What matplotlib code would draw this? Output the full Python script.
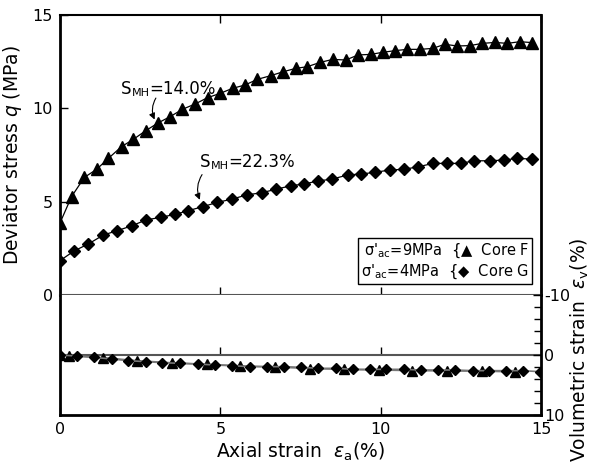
import numpy as np
import matplotlib
matplotlib.use('Agg')
import matplotlib.pyplot as plt
from matplotlib.ticker import MultipleLocator

plt.rcParams['font.family'] = ['DejaVu Sans']
plt.rcParams['mathtext.fontset'] = 'dejavusans'

# 上部: 偏差応力 q (MPa)
f_x = [0, 0.36, 0.76, 1.14, 1.51, 1.92, 2.29, 2.67, 3.07, 3.43, 3.82, 4.21, 4.60,
       4.99, 5.38, 5.77, 6.15, 6.57, 6.96, 7.35, 7.71, 8.11, 8.50, 8.91, 9.30, 9.69,
       10.06, 10.45, 10.83, 11.23, 11.62, 12.00, 12.39, 12.78, 13.17, 13.56, 13.95,
       14.34, 14.73]
f_q = [3.86, 5.27, 6.30, 6.73, 7.32, 7.95, 8.34, 8.80, 9.23, 9.55, 9.95, 10.23, 10.57,
       10.80, 11.07, 11.25, 11.55, 11.75, 11.96, 12.14, 12.23, 12.46, 12.62, 12.59,
       12.86, 12.89, 13.00, 13.09, 13.16, 13.16, 13.21, 13.43, 13.34, 13.36, 13.48,
       13.53, 13.48, 13.57, 13.52]
g_x = [0, 0.44, 0.88, 1.35, 1.77, 2.23, 2.68, 3.14, 3.59, 4.00, 4.45, 4.90, 5.35,
       5.82, 6.29, 6.73, 7.19, 7.62, 8.05, 8.49, 8.97, 9.38, 9.82, 10.29, 10.72, 11.17,
       11.64, 12.08, 12.50, 12.91, 13.41, 13.85, 14.26, 14.73]
g_q = [1.84, 2.36, 2.73, 3.21, 3.44, 3.70, 4.02, 4.16, 4.32, 4.52, 4.73, 4.96, 5.13,
       5.36, 5.48, 5.66, 5.85, 5.95, 6.11, 6.21, 6.43, 6.48, 6.57, 6.70, 6.73, 6.87,
       7.05, 7.05, 7.05, 7.19, 7.19, 7.23, 7.32, 7.28]

# 下部: 体積ひずみ εv (%)
fv_x = [0, 0.28, 1.35, 2.41, 3.48, 4.57, 5.61, 6.70, 7.79, 8.85, 9.94, 10.98, 12.07,
        13.16, 14.20]
fv_e = [0, 0.10, 0.45, 0.95, 1.30, 1.55, 1.80, 2.00, 2.25, 2.40, 2.50, 2.60, 2.65,
        2.70, 2.80]
gv_x = [0.0, 0.52, 1.06, 1.61, 2.13, 2.67, 3.19, 3.74, 4.29, 4.83, 5.35, 5.92, 6.46,
        6.99, 7.53, 8.06, 8.61, 9.15, 9.67, 10.17, 10.73, 11.25, 11.80, 12.32, 12.87,
        13.39, 13.91, 14.43, 14.97]
gv_e = [0.0, 0.17, 0.39, 0.67, 0.94, 1.11, 1.28, 1.39, 1.50, 1.67, 1.78, 1.94, 1.94,
        1.94, 2.06, 2.22, 2.22, 2.39, 2.39, 2.39, 2.39, 2.50, 2.50, 2.50, 2.61, 2.61,
        2.61, 2.61, 2.78]

fig = plt.figure(figsize=(5.94, 4.65), dpi=100)
L, R = 60 / 594, 541 / 594
ax = fig.add_axes([L, 1 - 295 / 465, R - L, (295 - 15) / 465])
ax2 = fig.add_axes([L, 1 - 415 / 465, R - L, (415 - 295) / 465])

# 上段
ax.plot(f_x, f_q, color='k', lw=0.9, marker='^', ms=8.5, mfc='k', mec='k')
ax.plot(g_x, g_q, color='k', lw=0.9, marker='D', ms=6, mfc='k', mec='k')
ax.set_xlim(0, 15)
ax.set_ylim(0, 15)
ax.set_yticks([0, 5, 10, 15])
ax.set_xticks([0, 5, 10, 15])
ax.tick_params(axis='x', which='both', top=True, bottom=True, labelbottom=False,
               direction='in', length=6, width=1)
ax.tick_params(axis='y', direction='in', length=6, width=1, labelsize=11.5, pad=5)
for s in ['left', 'right']:
    ax.spines[s].set_linewidth(2)
ax.spines['top'].set_linewidth(1.5)
ax.spines['bottom'].set_color('#555555')
ax.spines['bottom'].set_linewidth(1.5)
ax.set_ylabel('Deviator stress $q$ (MPa)', fontsize=13.5, labelpad=6)

# S_MH 注記
def smh(x, y, val):
    t1 = ax.text(x, y, 'S', fontsize=12, va='baseline')
    t2 = ax.annotate('MH', xy=(1, 0), xycoords=t1, fontsize=8, va='bottom')
    ax.annotate(val, xy=(1, 0), xycoords=t2, fontsize=12, va='bottom')

smh(1.9, 10.75, '=14.0%')
smh(4.37, 6.85, '=22.3%')
arrow = dict(arrowstyle='-|>', color='k', lw=0.8, mutation_scale=9,
             shrinkA=0, shrinkB=0, connectionstyle='arc3,rad=0.25')
ax.annotate('', xy=(2.95, 9.4), xytext=(2.99, 10.55), arrowprops=arrow)
ax.annotate('', xy=(4.36, 5.1), xytext=(4.43, 6.45), arrowprops=arrow)

# 凡例
ax.text(0.975, 0.05,
        "σ'$_{\\rm ac}$=9MPa  {▲  Core F\nσ'$_{\\rm ac}$=4MPa  {◆  Core G",
        transform=ax.transAxes, ha='right', va='bottom', fontsize=10.5,
        linespacing=1.2,
        bbox=dict(boxstyle='square,pad=0.22', fc='white', ec='k', lw=1))

# 下段
ax2.plot(fv_x, fv_e, color='#777777', lw=1.2, marker='^', ms=7, mfc='k', mec='k')
ax2.plot(gv_x, gv_e, color='#777777', lw=1.2, marker='D', ms=5.5, mfc='k', mec='k')
ax2.axhline(0, color='#555555', lw=1.5, zorder=1)
ax2.set_xlim(0, 15)
ax2.set_ylim(10, -10)
ax2.spines['top'].set_visible(False)
for s in ['left', 'right', 'bottom']:
    ax2.spines[s].set_linewidth(2)
ax2.set_xticks([0, 5, 10, 15])
ax2.tick_params(axis='x', direction='in', length=6, width=1, labelsize=11.5, pad=5)
ax2.yaxis.tick_right()
ax2.set_yticks([-10, 0, 10])
ax2.set_yticklabels(['-10', '0', '10'])
ax2.yaxis.set_minor_locator(MultipleLocator(2))
ax2.tick_params(axis='y', which='major', direction='in', length=6, width=1,
                labelsize=11.5, pad=2)
ax2.tick_params(axis='y', which='minor', direction='in', length=5, width=1)
sec = ax2.secondary_xaxis(0.5)
sec.set_xticks([5, 10])
sec.tick_params(direction='out', length=6, width=1, labeltop=False, labelbottom=False)
sec.spines['top'].set_visible(False)
sec.spines['bottom'].set_visible(False)
ax2.set_xlabel('Axial strain  $\\varepsilon$$_{\\rm a}$(%)', fontsize=13.5, labelpad=3)

fig.text(580 / 594, 1 - 350 / 465, 'Volumetric strain  $\\varepsilon$$_{\\rm v}$(%)',
         rotation=90, ha='center', va='center', fontsize=13.5)

fig.savefig('out.png', dpi=100)
